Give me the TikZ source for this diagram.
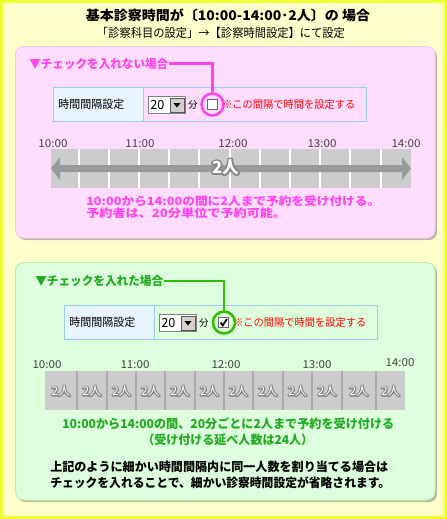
\documentclass[tikz,border=0pt]{standalone}
\usepackage{fontspec}
\usepackage{graphicx}
\setmainfont{Noto Sans CJK JP}
\usetikzlibrary{calc}
\definecolor{frameY}{HTML}{EEFF33}
\definecolor{bgY}{HTML}{FFFFCC}
\definecolor{pinkF}{HTML}{FFDDFF}
\definecolor{pinkB}{HTML}{F0C8F0}
\definecolor{mag}{HTML}{FF44EE}
\definecolor{greenF}{HTML}{DDFFDD}
\definecolor{greenB}{HTML}{BBEEAA}
\definecolor{grnT}{HTML}{22AA22}
\definecolor{grnL}{HTML}{33BB00}
\definecolor{cellB}{HTML}{E8F4FF}
\definecolor{tblB}{HTML}{99CCEE}
\definecolor{barG}{HTML}{CCCCCC}
\definecolor{arrG}{HTML}{999999}
\definecolor{divG}{HTML}{AAAAAA}
\definecolor{redT}{HTML}{FF0000}
\definecolor{btnG}{HTML}{D4D0C8}
\definecolor{shad}{HTML}{B8B8A0}
\definecolor{timeT}{HTML}{444444}
\definecolor{olG}{HTML}{888888}
\newdimen\pxu \pxu=0.75pt
\newcommand\fsz[1]{\fontsize{#1}{#1}\selectfont}
% scale horizontally only, to a given width in pixels
\newcommand\fitw[2]{\resizebox{#1\pxu}{\height}{#2}}
% white text with a grey outline: a stroked copy under a white filled copy
\newcommand\oltext[2]{\leavevmode
  \rlap{\color{olG}\special{pdf:literal direct 1 Tr #2 w 1 j 0.53 G}#1\special{pdf:literal direct 0 Tr 1 w 0 j}}%
  {\color{white}#1}}
\tikzset{
  txt/.style={inner sep=0},
  titletxt/.style={txt,font=\bfseries\fsz{10}},
  subtxt/.style={txt,font=\fsz{9}},
  lbltxt/.style={txt,font=\bfseries\fsz{9},anchor=west},
  celltxt/.style={txt,font=\fsz{8.5},anchor=west},
  redtxt/.style={txt,font=\fsz{8},text=redT,anchor=west},
  timetxt/.style={txt,font=\fsz{8.2},text=timeT},
  pinktxt/.style={txt,font=\bfseries\fsz{8.5},text=mag,anchor=west},
  bodytxt/.style={txt,font=\bfseries\fsz{9.2},anchor=west},
  ring/.style={circle,inner sep=0,minimum size=16.5pt,line width=1.9pt},
  chk/.style={draw=gray!80!black,fill=white,line width=0.75pt,inner sep=0,minimum size=8pt},
}
\newcommand\settingrow[2]{% #1 extra (check mark), #2 name suffix
  \fill[cellB] (0,0) rectangle (90,34);
  \draw[tblB,line width=0.75pt] (0,0) rectangle (313,34) (90,0) -- (90,34);
  \node[celltxt] (lab#2) at (5,17) {\fitw{66}{時間間隔設定}};
  \draw[fill=white,draw=gray,line width=0.75pt] (95,9.5) rectangle (132,26.5);
  \node[txt,font=\fsz{9.5},anchor=west] (sel#2) at (97,18) {20};
  \draw[fill=btnG,draw=gray!70!black,line width=0.6pt] (117,11) rectangle (131,25);
  \fill[black] (120.5,16) -- (127.5,16) -- (124,20.5) -- cycle;
  \node[txt,font=\fsz{7.2}] (fun#2) at (140,18) {分};
  \node[chk] (cb#2) at (159.5,17.5) {};
  #1
  \node[redtxt] (red#2) at (169,17.5) {\fitw{133}{※この間隔で時間を設定する}};
}
\begin{document}
\begin{tikzpicture}[x=0.75pt,y=-0.75pt]
\useasboundingbox (0,0) rectangle (447,519);
\fill[bgY] (0,0) rectangle (447,519);
\draw[frameY,line width=2.3pt] (1.5,1.5) rectangle (445.5,517.5);

% title
\node[titletxt] (title) at (228,15) {\fitw{284}{基本診察時間が〔10:00-14:00･2人〕の 場合}};
\node[subtxt] (subtitle) at (221,33) {\fitw{248}{「診察科目の設定」→【診察時間設定】にて設定}};

% pink box
\fill[shad,rounded corners=6pt] (17.5,48.5) rectangle (437,240);
\draw[pinkB,fill=pinkF,rounded corners=6pt,line width=0.75pt] (15.5,46.5) rectangle (435,238);
\node[lbltxt,text=mag] (plab) at (29,63.5) {\fitw{139}{▼チェックを入れない場合}};
\begin{scope}[shift={(53,87)}]
  \settingrow{}{P}
\end{scope}
\node[ring,draw=mag] (pring) at (212.5,104.5) {};
\draw[mag,line width=1.9pt] (plab.east) -| (pring.north);

% pink times
\foreach \x/\t in {53/10:00,140/11:00,233/12:00,322/13:00,406/14:00}
  \node[timetxt] at (\x,143.5) {\fitw{29}{\t}};
\fill[barG] (51,149) rectangle (411,188);
\foreach \x in {79,109,139,169,199,230,260,290,320,350,381}
  \draw[white,line width=0.9pt] (\x,149) -- (\x,188);
\fill[arrG] (51,168.5) -- (60,157) -- (60,165) -- (402,165) -- (402,157) -- (411,168.5)
  -- (402,180) -- (402,172) -- (60,172) -- (60,180) -- cycle;
\node[txt,font=\bfseries\fsz{12.5}] (ptwo) at (225.5,167) {\oltext{2人}{2.6}};
\node[pinktxt] (pt1) at (86,201) {\fitw{294}{10:00から14:00の間に2人まで予約を受け付ける。}};
\node[pinktxt] (pt2) at (86,213) {\fitw{200}{予約者は、20分単位で予約可能。}};

% green box
\fill[shad,rounded corners=6pt] (17.5,264.5) rectangle (437,502);
\draw[greenB,fill=greenF,rounded corners=6pt,line width=0.75pt] (15.5,262.5) rectangle (435,500);
\node[lbltxt,text=grnT] (glab) at (35,281) {\fitw{128}{▼チェックを入れた場合}};
\begin{scope}[shift={(64,305)}]
  \settingrow{\draw[black,line width=1.3pt] (156.5,17.5) -- (158.7,20.5) -- (163,14);}{G}
\end{scope}
\node[ring,draw=grnL] (gring) at (224,322.5) {};
\draw[grnL,line width=1.9pt] (glab.east) -| (gring.north);

\foreach \x/\t/\y in {47/10:00/365,135/11:00/365,226/12:00/365,317/13:00/365,400/14:00/363}
  \node[timetxt] at (\x,\y) {\fitw{29}{\t}};
\fill[barG] (45,371) rectangle (405,410);
\foreach \x in {77,107,136,165,195,224,253,283,312,342,376}
  \draw[divG,line width=0.9pt] (\x,371) -- (\x,410);
\foreach \c [count=\i] in {61,92,121.5,150.5,180,209.5,238.5,268,297.5,327,359,390.5}
  \node[txt,font=\fsz{9}] (gtwo\i) at (\c,391) {\oltext{2人}{1.8}};
\node[bodytxt,text=grnT] (gt1) at (62,424) {\fitw{332}{10:00から14:00の間、20分ごとに2人まで予約を受け付ける}};
\node[bodytxt,text=grnT] (gt2) at (142,440) {\fitw{171}{（受け付ける延べ人数は24人）}};
\node[bodytxt] (bt1) at (50,467) {\fitw{338}{上記のように細かい時間間隔内に同一人数を割り当てる場合は}};
\node[bodytxt] (bt2) at (50,483) {\fitw{340}{チェックを入れることで、細かい診察時間設定が省略されます。}};
\end{tikzpicture}
\end{document}
